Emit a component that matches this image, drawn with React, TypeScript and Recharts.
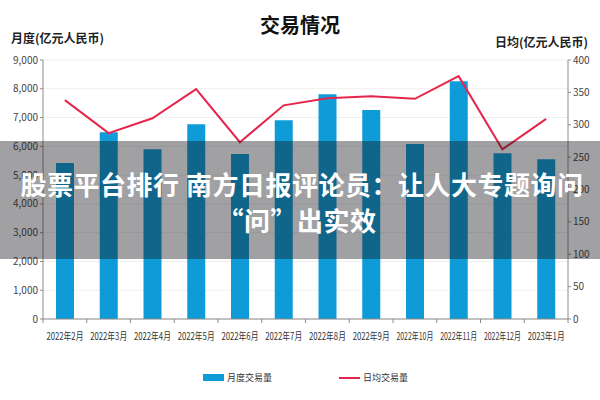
import React from "react";
import {
  Bar,
  CartesianGrid,
  ComposedChart,
  Line,
  XAxis,
  YAxis,
} from "recharts";

const months = [
  "2022年2月",
  "2022年3月",
  "2022年4月",
  "2022年5月",
  "2022年6月",
  "2022年7月",
  "2022年8月",
  "2022年9月",
  "2022年10月",
  "2022年11月",
  "2022年12月",
  "2023年1月",
];

const monthlyVolume = [5420, 6490, 5900, 6770, 5730, 6910, 7810, 7260, 6080, 8260, 5760, 5550];
const dailyVolume = [338, 287, 310, 355, 273, 330, 341, 344, 340, 375, 262, 309];

const leftTicks = [0, 1000, 2000, 3000, 4000, 5000, 6000, 7000, 8000, 9000];
const rightTicks = [0, 50, 100, 150, 200, 250, 300, 350, 400];

const data = months.map((month, i) => ({
  month,
  monthly: monthlyVolume[i],
  daily: dailyVolume[i],
}));

const font = '"Noto Sans CJK SC", "Noto Sans", sans-serif';
const BLUE = "#0e9bd8";
const RED = "#e6254c";
const AXIS = "#8c8c8c";
const HALF_BAND = (600 - 43 - 32) / 12 / 2;

function MonthTick({ x, y, payload, index }: any) {
  const label = String(payload.value);
  const len = label.length > 8 ? 42 : 37;
  const axisY = y - 6;
  return (
    <g>
      <line x1={x - HALF_BAND} x2={x - HALF_BAND} y1={axisY} y2={axisY + 4} stroke={AXIS} />
      {index === months.length - 1 && (
        <line x1={x + HALF_BAND} x2={x + HALF_BAND} y1={axisY} y2={axisY + 4} stroke={AXIS} />
      )}
      <text
        x={x}
        y={y + 15}
        textAnchor="middle"
        fill="#333"
        fontSize={10}
        fontFamily={font}
        textLength={len}
        lengthAdjust="spacingAndGlyphs"
      >
        {label}
      </text>
    </g>
  );
}

export default function App() {
  return (
    <div
      style={{
        position: "fixed",
        top: 0,
        left: 0,
        width: 600,
        height: 400,
        background: "#fff",
        fontFamily: font,
        overflow: "hidden",
      }}
    >
      <ComposedChart
        width={600}
        height={400}
        data={data}
        margin={{ top: 60, right: 0, bottom: 51, left: 0 }}
      >
        <CartesianGrid vertical={false} stroke="#efefef" yAxisId="left" />
        <XAxis
          dataKey="month"
          height={30}
          interval={0}
          tickLine={false}
          tickSize={0}
          tickMargin={6}
          stroke={AXIS}
          tick={<MonthTick />}
        />
        <YAxis
          yAxisId="left"
          width={43}
          domain={[0, 9000]}
          ticks={leftTicks}
          tickFormatter={(v) => v.toLocaleString("en-US")}
          stroke={AXIS}
          tickSize={3}
          tick={{ fill: "#444", fontSize: 10, fontFamily: font }}
        />
        <YAxis
          yAxisId="right"
          orientation="right"
          width={32}
          domain={[0, 400]}
          ticks={rightTicks}
          stroke={AXIS}
          tickSize={3}
          tick={{ fill: "#444", fontSize: 10, fontFamily: font }}
        />
        <Bar
          yAxisId="left"
          dataKey="monthly"
          fill={BLUE}
          barSize={18}
          isAnimationActive={false}
        />
        <Line
          yAxisId="right"
          dataKey="daily"
          stroke={RED}
          strokeWidth={2}
          dot={false}
          isAnimationActive={false}
        />
      </ComposedChart>

      <div
        style={{
          position: "absolute",
          top: 10,
          left: 0,
          width: 600,
          textAlign: "center",
          fontSize: 20,
          fontWeight: 700,
          color: "#111",
        }}
      >
        交易情况
      </div>
      <div
        style={{
          position: "absolute",
          top: 29,
          left: 11,
          fontSize: 12,
          fontWeight: 700,
          color: "#222",
        }}
      >
        月度(亿元人民币)
      </div>
      <div
        style={{
          position: "absolute",
          top: 33,
          right: 12,
          fontSize: 12,
          fontWeight: 700,
          color: "#222",
        }}
      >
        日均(亿元人民币)
      </div>

      {/* legend */}
      <div
        style={{
          position: "absolute",
          top: 371,
          left: 203,
          display: "flex",
          alignItems: "center",
          fontSize: 9,
          color: "#333",
        }}
      >
        <span style={{ display: "inline-block", width: 21, height: 7, background: BLUE, marginRight: 3 }} />
        月度交易量
      </div>
      <div
        style={{
          position: "absolute",
          top: 371,
          left: 339,
          display: "flex",
          alignItems: "center",
          fontSize: 9,
          color: "#333",
        }}
      >
        <span style={{ display: "inline-block", width: 21, height: 2, background: RED, marginRight: 3 }} />
        日均交易量
      </div>

      {/* overlay caption */}
      <div
        style={{
          position: "absolute",
          top: 141,
          left: 0,
          width: 600,
          height: 118,
          background: "rgba(20, 20, 25, 0.4)",
          color: "#fff",
          fontWeight: 700,
          textAlign: "center",
          fontSize: 26,
          letterSpacing: 0.5,
          lineHeight: "36px",
          paddingTop: 25,
          paddingLeft: 4,
          boxSizing: "border-box",
        }}
      >
        <div>股票平台排行 南方日报评论员：让人大专题询问</div>
        <div style={{ marginLeft: -10 }}>“问”出实效</div>
      </div>
    </div>
  );
}
